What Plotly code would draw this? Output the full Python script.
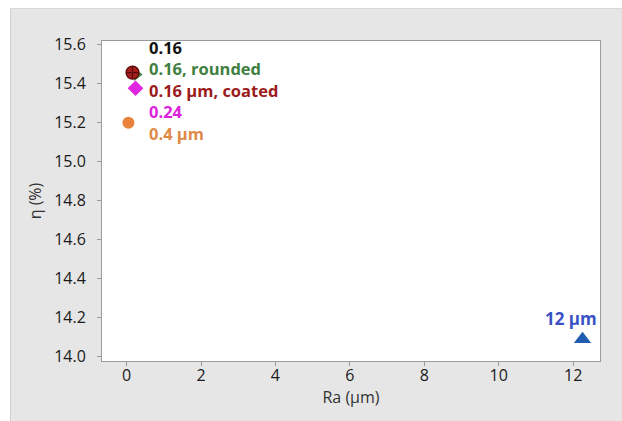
import plotly.graph_objects as go

# Data
names = ["0.16", "0.16, rounded", "0.16 µm, coated", "0.24", "0.4 µm", "12 µm"]
ra = [0.16, 0.28, 0.16, 0.24, 0.05, 12.25]
eta = [15.455, 15.445, 15.455, 15.375, 15.198, 14.089]
symbols = ["circle", "triangle-right", "circle-cross", "diamond", "circle", "triangle-up"]
marker_colors = ["#111111", "#3a7d3a", "#a51e1e", "#e026e0", "#e8823c", "#1f5db0"]
sizes = [11, 11, 13, 12, 12, 15]
label_colors = ["#111111", "#3f7f3f", "#9b1b1b", "#dd22dd", "#e08a48", "#3a52c4"]

# label block positions (stacked labels for the cluster near 0, single label at 12 µm)
cluster_label_x, cluster_label_y = 0.56, 15.363
single_label_x, single_label_y = 11.19, 14.197

x_ticks = [0, 2, 4, 6, 8, 10, 12]
y_ticks = [14.0, 14.2, 14.4, 14.6, 14.8, 15.0, 15.2, 15.4, 15.6]

fig = go.Figure()
for i in range(len(names)):
    line = dict(width=0)
    if symbols[i] == "circle-cross":
        line = dict(width=1.2, color="#5a0a0a")
    fig.add_trace(go.Scatter(
        x=[ra[i]], y=[eta[i]], mode="markers", name=names[i],
        marker=dict(symbol=symbols[i], color=marker_colors[i], size=sizes[i], line=line),
        showlegend=False, hoverinfo="skip"))

cluster_text = "<br>".join(
    '<span style="color:%s"><b>%s</b></span>' % (label_colors[i], names[i]) for i in range(5))
fig.add_annotation(x=cluster_label_x, y=cluster_label_y, text=cluster_text,
                   xanchor="left", yanchor="middle", align="left", showarrow=False,
                   font=dict(family="Open Sans", size=16.5, color="#111111"))
fig.add_annotation(x=single_label_x, y=single_label_y, text="<b>%s</b>" % names[5],
                   xanchor="left", yanchor="middle", showarrow=False,
                   font=dict(family="Open Sans", size=17, color=label_colors[5]))

W, H = 622, 421
L, R, T, B = 102, 22, 41, 60
pw, ph = W - L - R, H - T - B
def px(x):
    return (x - L) / pw
def py(y):
    return (H - B - y) / ph

# white strips outside the grey panel (top and left)
fig.add_shape(type="rect", xref="paper", yref="paper",
              x0=px(-5), x1=px(640), y0=py(8), y1=py(-10),
              fillcolor="white", line=dict(width=0), layer="below")
fig.add_shape(type="rect", xref="paper", yref="paper",
              x0=px(-5), x1=px(10), y0=py(440), y1=py(-10),
              fillcolor="white", line=dict(width=0), layer="below")
fig.add_shape(type="line", xref="paper", yref="paper",
              x0=px(10.5), x1=px(10.5), y0=py(8), y1=py(440),
              line=dict(color="#cfcfcf", width=1), layer="below")
fig.add_shape(type="line", xref="paper", yref="paper",
              x0=px(10), x1=px(640), y0=py(8.5), y1=py(8.5),
              line=dict(color="#d8d8d8", width=1), layer="below")

axis_common = dict(showgrid=False, zeroline=False, showline=True, linecolor="#9a9a9a",
                   linewidth=1, mirror=True, ticks="outside", ticklen=4, tickcolor="#9a9a9a",
                   tickfont=dict(family="Open Sans", size=16, color="#1a1a1a"))

fig.update_layout(
    width=W, height=H, margin=dict(l=L, r=R, t=T, b=B),
    paper_bgcolor="#e6e6e6", plot_bgcolor="white",
    xaxis=dict(range=[-0.66, 12.72], tickvals=x_ticks, ticktext=[str(v) for v in x_ticks],
               ticklabelstandoff=-4,
               title=dict(text="Ra (µm)", standoff=4,
                          font=dict(family="Open Sans", size=16, color="#333333")),
               **axis_common),
    yaxis=dict(range=[13.978, 15.617], tickvals=y_ticks, ticktext=["%.1f" % v for v in y_ticks],
               ticklabelstandoff=8,
               title=dict(text="η (%)", standoff=8,
                          font=dict(family="Open Sans", size=16, color="#333333")),
               **axis_common),
)

fig.write_html("out.html")
